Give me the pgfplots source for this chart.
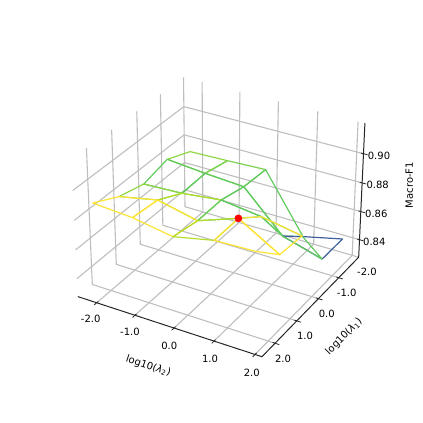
\documentclass[border=0pt]{standalone}
\usepackage{fontspec}
\setmainfont{DejaVu Sans}
\usepackage{pgfplots}
\pgfplotsset{compat=1.18}

% viridis shades as they show on the wire edges
\definecolor{cBlue}{HTML}{3F5F9C}
\definecolor{cGreen}{HTML}{62CB5F}
\definecolor{cMid}{HTML}{7AD151}
\definecolor{cLight}{HTML}{8FD744}
\definecolor{cLime}{HTML}{B5DE2B}
\definecolor{cYellow}{HTML}{FDE334}
\definecolor{gridgray}{HTML}{BEBEBE}
\definecolor{axisdark}{HTML}{262626}

\newcommand\tk{\fontsize{10}{12}\selectfont}

% one wire quad of the surface
\newcommand\Q[2]{\addplot[draw=#1,line width=1.2pt,line join=round] table[pr,row sep=\\]{x y z\\#2};}

\pgfplotsset{table/pr/.style={
  x expr={PX(\thisrow{x},\thisrow{y},\thisrow{z})},
  y expr={PY(\thisrow{x},\thisrow{y},\thisrow{z})}}}

\begin{document}
\begin{tikzpicture}[declare function={
  dd(\a,\b,\c)=10.0152-0.1126*\a-0.1973*\b-4.79*(\c-0.87);
  PX(\a,\b,\c)=220+1755*(0.0069+0.2252*\a-0.1315*\b)/dd(\a,\b,\c);
  PY(\a,\b,\c)=213+1755*(-0.0344-0.065*\a-0.1139*\b+8.296*(\c-0.87))/dd(\a,\b,\c);
}]
\begin{axis}[
  scale only axis,
  width=423pt,
  height=423pt,
  xmin=0,xmax=423,
  ymin=0,ymax=423,
  axis line style={draw=none},
  ticks=none,
  clip=false
]

% grid: lambda_2 ticks
\addplot[gridgray,line width=1.1pt] table[pr]{
x y z
-1.823 2.2624 0.82735
-1.823 -2.2624 0.82735
-1.823 -2.2624 0.92046

-0.8335 2.2624 0.82735
-0.8335 -2.2624 0.82735
-0.8335 -2.2624 0.92046

0.156 2.2624 0.82735
0.156 -2.2624 0.82735
0.156 -2.2624 0.92046

1.145 2.2624 0.82735
1.145 -2.2624 0.82735
1.145 -2.2624 0.92046

2.135 2.2624 0.82735
2.135 -2.2624 0.82735
2.135 -2.2624 0.92046
};
% grid: lambda_1 ticks
\addplot[gridgray,line width=1.1pt] table[pr]{
x y z
2.30 -2.2624 0.82735
-2.3192 -2.2624 0.82735
-2.3192 -2.2624 0.92046

2.30 -1.262 0.82735
-2.3192 -1.262 0.82735
-2.3192 -1.262 0.92046

2.30 -0.28 0.82735
-2.3192 -0.28 0.82735
-2.3192 -0.28 0.92046

2.30 0.726 0.82735
-2.3192 0.726 0.82735
-2.3192 0.726 0.92046

2.30 1.695 0.82735
-2.3192 1.695 0.82735
-2.3192 1.695 0.92046
};
% grid: Macro-F1 ticks
\addplot[gridgray,line width=1.1pt] table[pr]{
x y z
-2.3192 2.2624 0.84
-2.3192 -2.2624 0.84
2.30 -2.2624 0.84

-2.3192 2.2624 0.86
-2.3192 -2.2624 0.86
2.30 -2.2624 0.86

-2.3192 2.2624 0.88
-2.3192 -2.2624 0.88
2.30 -2.2624 0.88

-2.3192 2.2624 0.90
-2.3192 -2.2624 0.90
2.30 -2.2624 0.90
};

% axis lines
\addplot[axisdark,line width=1pt] table[pr]{
x y z
-2.3192 2.2624 0.82735
2.30 2.2624 0.82735
2.30 -2.2624 0.82735
2.30 -2.2624 0.92046
};
% tick marks
\addplot[axisdark,line width=0.8pt] table[pr]{
x y z
-1.823 2.2 0.82735
-1.823 2.36 0.82735

-0.8335 2.2 0.82735
-0.8335 2.36 0.82735

0.156 2.2 0.82735
0.156 2.36 0.82735

1.145 2.2 0.82735
1.145 2.36 0.82735

2.135 2.2 0.82735
2.135 2.36 0.82735

2.24 -1.262 0.82735
2.40 -1.262 0.82735

2.24 -0.28 0.82735
2.40 -0.28 0.82735

2.24 0.726 0.82735
2.40 0.726 0.82735

2.24 1.695 0.82735
2.40 1.695 0.82735

2.24 -2.2624 0.84
2.40 -2.2624 0.84

2.24 -2.2624 0.86
2.40 -2.2624 0.86

2.24 -2.2624 0.88
2.40 -2.2624 0.88

2.24 -2.2624 0.90
2.40 -2.2624 0.90
};

% surface, far quads first
\Q{cLight}{-2 -2 .8736\\-1 -2 .8744\\-1 -1 .8785\\-2 -1 .8809\\-2 -2 .8736\\}
\Q{cMid}{-1 -2 .8744\\0 -2 .8755\\0 -1 .8767\\-1 -1 .8785\\-1 -2 .8744\\}
\Q{cGreen}{0 -2 .8755\\1 -2 .8354\\1 -1 .8500\\0 -1 .8767\\0 -2 .8755\\}
\Q{cBlue}{1 -2 .8354\\2 -2 .8418\\2 -1 .8420\\1 -1 .8500\\1 -2 .8354\\}
\Q{cGreen}{-2 -1 .8809\\-1 -1 .8785\\-1 0 .8779\\-2 0 .8767\\-2 -1 .8809\\}
\Q{cGreen}{-1 -1 .8785\\0 -1 .8767\\0 0 .8810\\-1 0 .8779\\-1 -1 .8785\\}
\Q{cGreen}{0 -1 .8767\\1 -1 .8500\\1 0 .8775\\0 0 .8810\\0 -1 .8767\\}
\Q{cGreen}{1 -1 .8500\\2 -1 .8420\\2 0 .8724\\1 0 .8775\\1 -1 .8500\\}
\Q{cLight}{-2 0 .8767\\-1 0 .8779\\-1 1 .8868\\-2 1 .8814\\-2 0 .8767\\}
\Q{cLime}{-1 0 .8779\\0 0 .8810\\0 1 .8807\\-1 1 .8868\\-1 0 .8779\\}
\Q{cGreen}{0 0 .8810\\1 0 .8775\\1 1 .8902\\0 1 .8807\\0 0 .8810\\}
\Q{cYellow}{1 0 .8775\\2 0 .8724\\2 1 .8742\\1 1 .8902\\1 0 .8775\\}
\Q{cYellow}{-2 1 .8814\\-1 1 .8868\\-1 2 .8887\\-2 2 .8906\\-2 1 .8814\\}
\Q{cYellow}{-1 1 .8868\\0 1 .8807\\0 2 .8841\\-1 2 .8887\\-1 1 .8868\\}
\Q{cLime}{0 1 .8807\\1 1 .8902\\1 2 .8898\\0 2 .8841\\0 1 .8807\\}
\Q{cYellow}{1 1 .8902\\2 1 .8742\\2 2 .8907\\1 2 .8898\\1 1 .8902\\}

% best setting
\addplot[only marks,mark=*,mark size=3.6pt,color=red] table[pr]{
x y z
1 1 0.8902
};

% tick labels
\node[font=\tk] at (axis cs:90.7,103.7) {-2.0};
\node[font=\tk] at (axis cs:130,90.7) {-1.0};
\node[font=\tk] at (axis cs:169.3,77.3) {0.0};
\node[font=\tk] at (axis cs:210,63.7) {1.0};
\node[font=\tk] at (axis cs:251.7,50.3) {2.0};
\node[font=\tk] at (axis cs:367,151) {-2.0};
\node[font=\tk] at (axis cs:346.7,130.3) {-1.0};
\node[font=\tk] at (axis cs:326.7,109) {0.0};
\node[font=\tk] at (axis cs:305,87) {1.0};
\node[font=\tk] at (axis cs:283,64) {2.0};
\node[font=\tk] at (axis cs:379,267) {0.90};
\node[font=\tk] at (axis cs:377.7,238) {0.88};
\node[font=\tk] at (axis cs:376.3,209.3) {0.86};
\node[font=\tk] at (axis cs:374.3,181.3) {0.84};

% axis titles
\node[font=\tk,rotate=-18.5] at (axis cs:148.3,57) {log10({\itshape λ}\textsubscript{2})};
\node[font=\tk,rotate=45] at (axis cs:344,86.3) {log10({\itshape λ}\textsubscript{1})};
\node[font=\tk,rotate=90] at (axis cs:409.3,238) {Macro-F1};

\end{axis}
\end{tikzpicture}
\end{document}
